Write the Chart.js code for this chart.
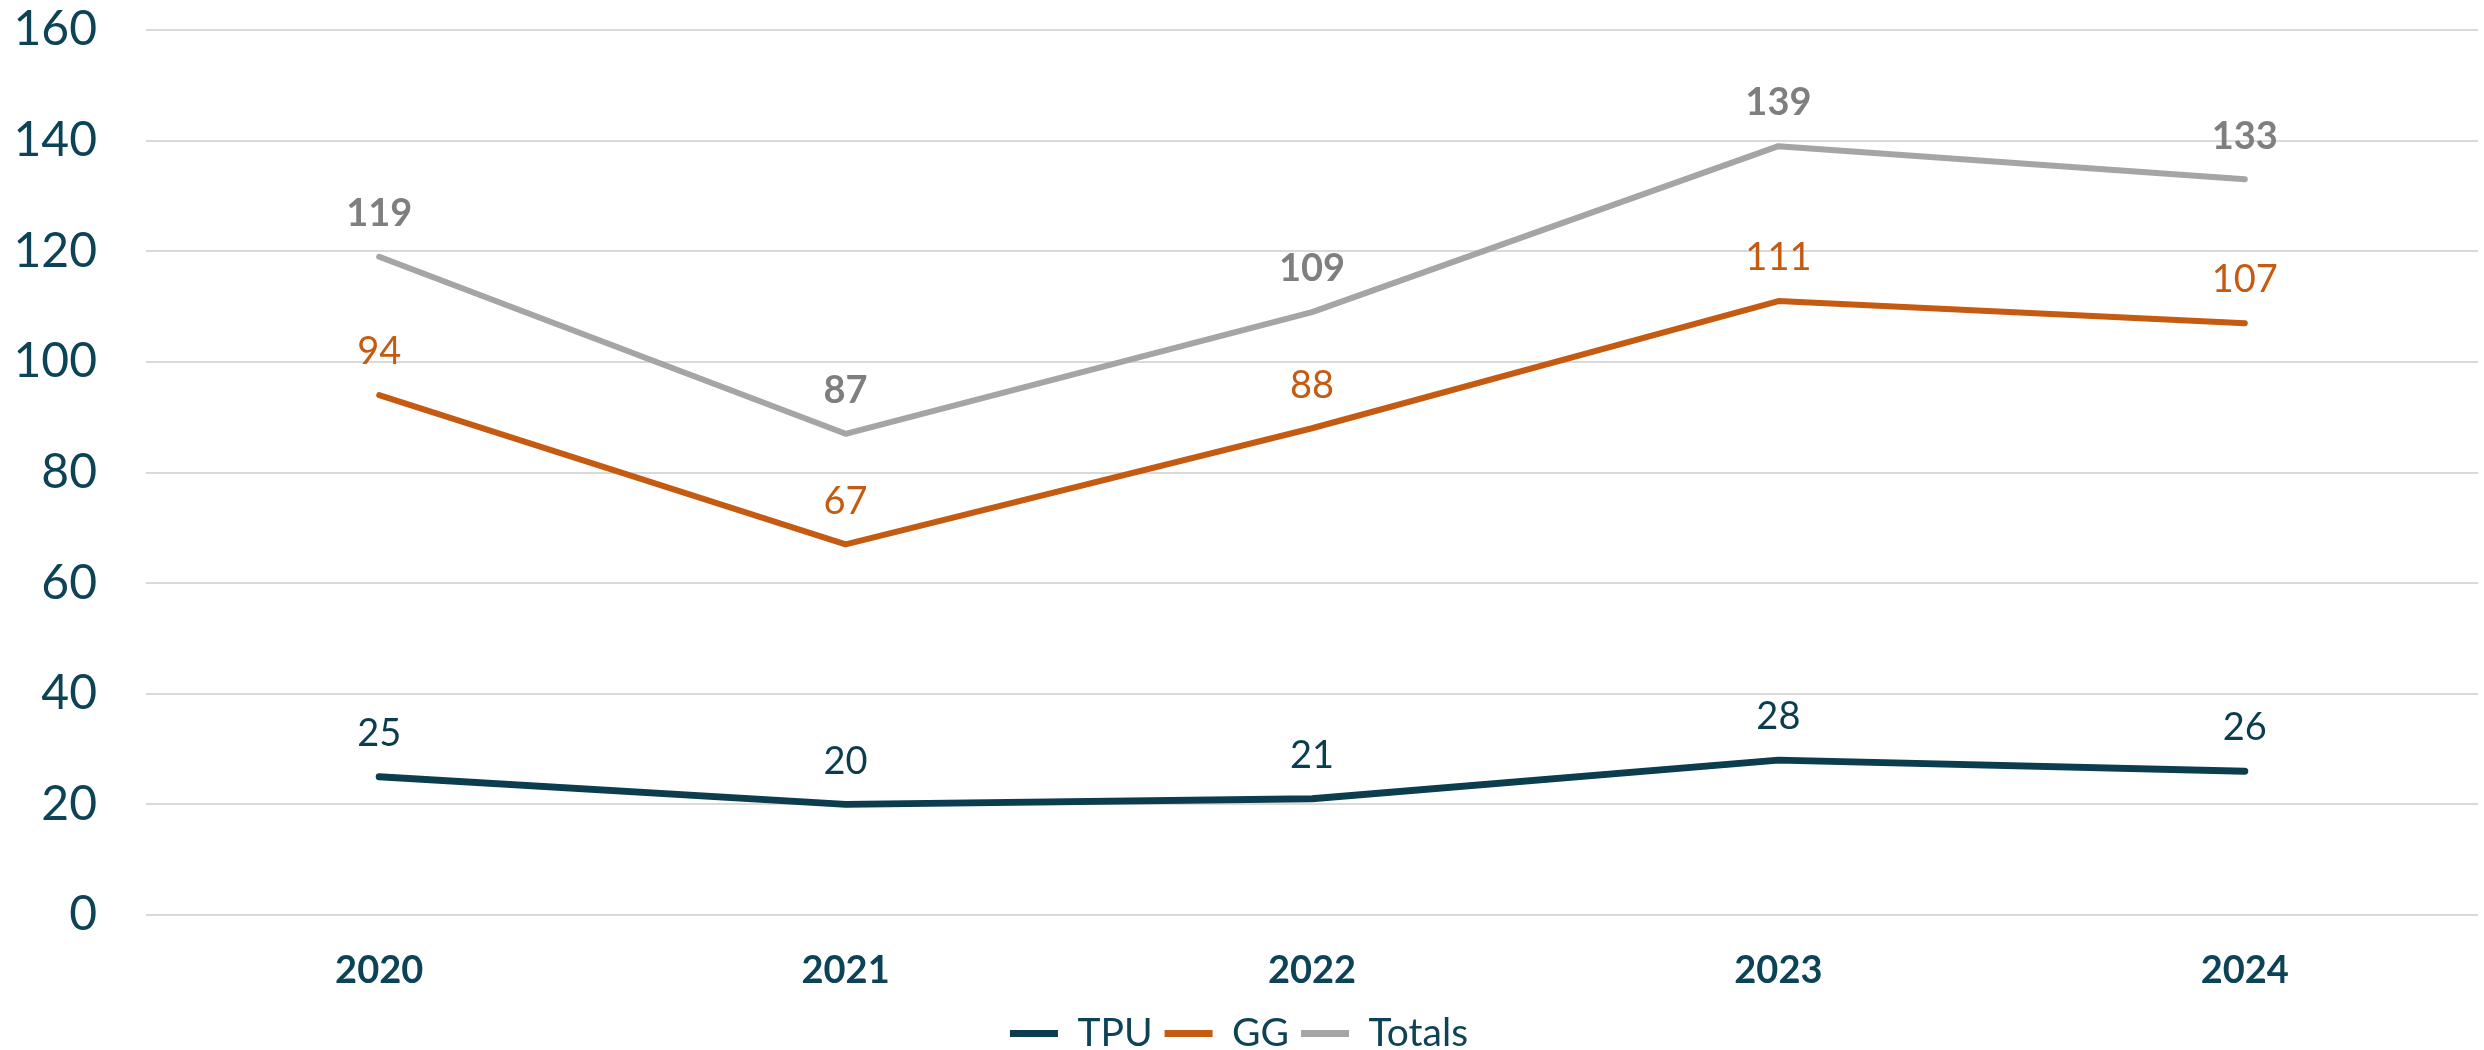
<!DOCTYPE html>
<html>
<head>
<meta charset="utf-8">
<script src="https://cdn.jsdelivr.net/npm/chart.js@4.4.0/dist/chart.umd.min.js"></script>
<style>
    html, body { margin: 0; padding: 0; background: #ffffff; }
    #wrap { width: 2484px; height: 1050px; }
</style>
</head>
<body>
<div id="wrap"><canvas id="chart-lineas"></canvas></div>
<script>
// ----- Datos -----
const anios = ['2020', '2021', '2022', '2023', '2024'];
const tpu = [25, 20, 21, 28, 26];
const gg = [94, 67, 88, 111, 107];
const totals = [119, 87, 109, 139, 133];

const colorTexto = '#0d4356';
const fuente = 'Lato, "Noto Sans", sans-serif';

// Etiquetas de valor encima de cada punto
const etiquetasPlugin = {
    id: 'etiquetas',
    afterDatasetsDraw(chart) {
        const ctx = chart.ctx;
        chart.data.datasets.forEach((ds, i) => {
            const meta = chart.getDatasetMeta(i);
            ctx.save();
            ctx.font = (ds.labelBold ? 'bold ' : '') + '38px ' + fuente;
            ctx.fillStyle = ds.labelColor;
            ctx.textAlign = 'center';
            ctx.textBaseline = 'middle';
            meta.data.forEach((pt, j) => {
                ctx.fillText(String(ds.data[j]), pt.x, pt.y - 43);
            });
            ctx.restore();
        });
    }
};

const ctxLineas = document.getElementById('chart-lineas');
new Chart(ctxLineas.getContext('2d'), {
    type: 'line',
    data: {
        labels: anios,
        datasets: [
            { label: 'TPU', data: tpu, borderColor: '#0b3d4f', backgroundColor: '#0b3d4f', borderWidth: 7, labelColor: '#0b3d4f', labelBold: false },
            { label: 'GG', data: gg, borderColor: '#c55a11', backgroundColor: '#c55a11', borderWidth: 6, labelColor: '#c55a11', labelBold: false },
            { label: 'Totals', data: totals, borderColor: '#a5a5a5', backgroundColor: '#a5a5a5', borderWidth: 6, labelColor: '#7f7f7f', labelBold: true }
        ]
    },
    options: {
        responsive: true,
        maintainAspectRatio: false,
        animation: false,
        layout: { padding: { top: 30, right: 6, bottom: -13, left: 0 } },
        elements: {
            point: { radius: 0, hoverRadius: 0 },
            line: { tension: 0, borderCapStyle: 'round', borderJoinStyle: 'round' }
        },
        scales: {
            x: {
                offset: true,
                grid: { display: false, drawTicks: false },
                border: { display: false },
                ticks: { color: colorTexto, padding: 33, font: { family: fuente, size: 38, weight: 'bold' } },
                afterFit: (scale) => { scale.height = 87; }
            },
            y: {
                min: 0,
                max: 160,
                ticks: { stepSize: 20, color: colorTexto, padding: 49, font: { family: fuente, size: 48 } },
                grid: { color: '#d9d9d9', lineWidth: 2, drawTicks: false },
                border: { display: false },
                afterFit: (scale) => {
                    scale.width = 146;
                    scale.paddingTop = 0;
                    scale.paddingBottom = 0;
                }
            }
        },
        plugins: {
            tooltip: { enabled: false },
            legend: {
                position: 'bottom',
                labels: {
                    color: colorTexto,
                    font: { family: fuente, size: 39 },
                    boxWidth: 48,
                    boxHeight: 7,
                    useBorderRadius: true,
                    borderRadius: 3,
                    padding: 12,
                    generateLabels: (chart) => chart.data.datasets.map((ds, i) => ({
                        text: ds.label,
                        fillStyle: ds.borderColor,
                        strokeStyle: ds.borderColor,
                        lineWidth: 0,
                        fontColor: colorTexto,
                        datasetIndex: i,
                        hidden: false
                    }))
                }
            }
        }
    },
    plugins: [etiquetasPlugin]
});
</script>
</body>
</html>
